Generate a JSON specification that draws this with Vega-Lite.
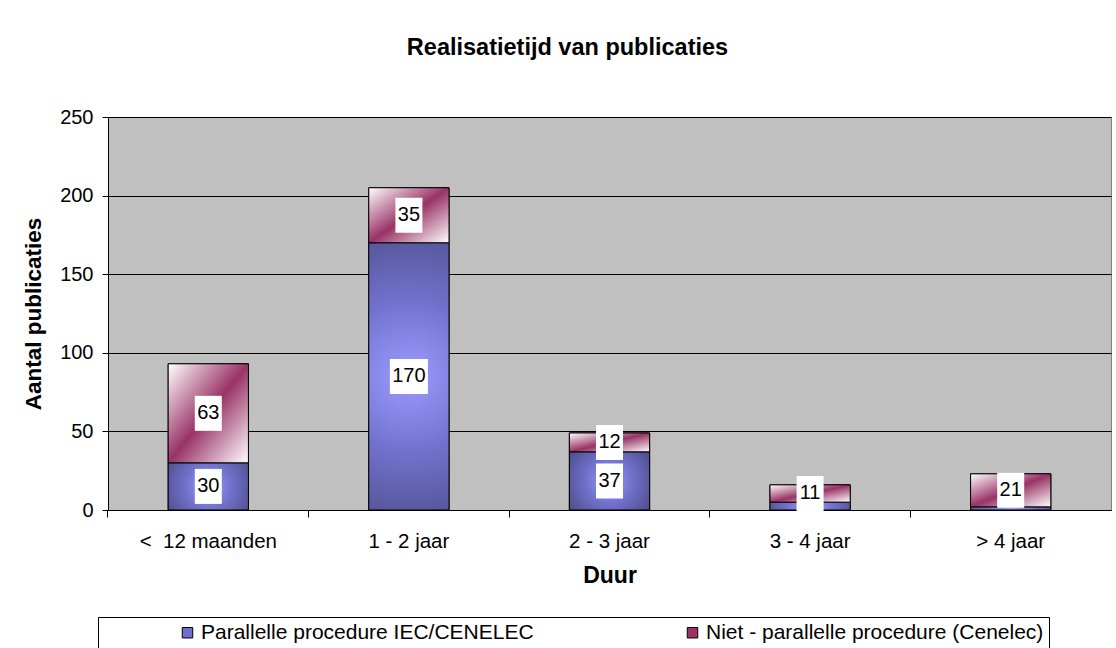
{
  "$schema": "https://vega.github.io/schema/vega-lite/v6.json",
  "width": 1003,
  "height": 393,
  "autosize": {"type": "none"},
  "padding": {"left": 108, "top": 117, "right": 5, "bottom": 138},
  "background": "white",
  "title": {
    "text": "Realisatietijd van publicaties",
    "font": "Liberation Sans",
    "fontSize": 23.5,
    "fontWeight": "bold",
    "color": "black",
    "anchor": "middle",
    "dx": -42,
    "offset": 48
  },
  "config": {
    "font": "Liberation Sans",
    "view": {"fill": "#C0C0C0", "stroke": "#808080"}
  },
  "data": {
    "values": [
      {"cat": "<\u00a0 12 maanden", "series": "Parallelle procedure IEC/CENELEC", "value": 30},
      {"cat": "<\u00a0 12 maanden", "series": "Niet - parallelle procedure (Cenelec)", "value": 63},
      {"cat": "1 - 2 jaar", "series": "Parallelle procedure IEC/CENELEC", "value": 170},
      {"cat": "1 - 2 jaar", "series": "Niet - parallelle procedure (Cenelec)", "value": 35},
      {"cat": "2 - 3 jaar", "series": "Parallelle procedure IEC/CENELEC", "value": 37},
      {"cat": "2 - 3 jaar", "series": "Niet - parallelle procedure (Cenelec)", "value": 12},
      {"cat": "3 - 4 jaar", "series": "Parallelle procedure IEC/CENELEC", "value": 5},
      {"cat": "3 - 4 jaar", "series": "Niet - parallelle procedure (Cenelec)", "value": 11},
      {"cat": "> 4 jaar", "series": "Parallelle procedure IEC/CENELEC", "value": 2},
      {"cat": "> 4 jaar", "series": "Niet - parallelle procedure (Cenelec)", "value": 21}
    ]
  },
  "transform": [
    {"stack": "value", "groupby": ["cat"], "sort": [{"field": "series", "order": "descending"}], "as": ["y0", "y1"]},
    {"calculate": "(datum.y0 + datum.y1) / 2", "as": "ymid"},
    {"calculate": "length(toString(datum.value))", "as": "nd"}
  ],
  "encoding": {
    "x": {
      "field": "cat",
      "type": "nominal",
      "sort": ["<\u00a0 12 maanden", "1 - 2 jaar", "2 - 3 jaar", "3 - 4 jaar", "> 4 jaar"],
      "scale": {"paddingInner": 0.6, "paddingOuter": 0.3},
      "axis": {
        "title": "Duur",
        "titleFontSize": 23,
        "titleFontWeight": "bold",
        "titleColor": "black",
        "titlePadding": 13,
        "labelAngle": 0,
        "labelFontSize": 20.5,
        "labelColor": "black",
        "labelPadding": 14,
        "tickSize": 7,
        "tickColor": "black",
        "domainColor": "black",
        "bandPosition": -0.75
      }
    },
    "y": {
      "field": "y0",
      "type": "quantitative",
      "scale": {"domain": [0, 250]},
      "axis": {
        "title": "Aantal publicaties",
        "titleFontSize": 22.5,
        "titleFontWeight": "bold",
        "titleColor": "black",
        "titlePadding": 14,
        "values": [0, 50, 100, 150, 200, 250],
        "labelFontSize": 20,
        "labelColor": "black",
        "labelPadding": 9,
        "tickSize": 6,
        "tickColor": "black",
        "domainColor": "black",
        "gridColor": "black",
        "gridWidth": 1,
        "gridOpacity": 1
      }
    },
    "y2": {"field": "y1"}
  },
  "layer": [
    {
      "mark": {"type": "bar", "stroke": "black", "strokeWidth": 1},
      "encoding": {
        "fill": {
          "field": "series",
          "type": "nominal",
          "scale": {
            "domain": ["Parallelle procedure IEC/CENELEC", "Niet - parallelle procedure (Cenelec)"],
            "range": ["#6E6ECB", "#993366"]
          },
          "legend": {
            "orient": "none",
            "legendX": -10,
            "legendY": 500,
            "direction": "horizontal",
            "title": " ",
            "titleOrient": "left",
            "titlePadding": 74,
            "padding": 5,
            "strokeColor": "black",
            "fillColor": "white",
            "labelFontSize": 21,
            "labelColor": "black",
            "labelLimit": 600,
            "labelOffset": 3,
            "symbolType": "square",
            "symbolSize": 110,
            "symbolStrokeColor": "black",
            "symbolStrokeWidth": 1,
            "symbolOpacity": 1,
            "columnPadding": 148
          }
        }
      }
    },
    {
      "transform": [{"filter": "datum.series === 'Parallelle procedure IEC/CENELEC'"}],
      "mark": {
        "type": "bar", "stroke": "black", "strokeWidth": 1,
        "fill": {"gradient": "radial", "x1": 0.5, "y1": 0.5, "r1": 0, "x2": 0.5, "y2": 0.5, "r2": 0.7,
                 "stops": [{"offset": 0, "color": "#9C9CFF"}, {"offset": 0.4, "color": "#7272CE"}, {"offset": 1, "color": "#434378"}]}
      }
    },
    {
      "transform": [{"filter": "datum.series === 'Niet - parallelle procedure (Cenelec)'"}],
      "mark": {
        "type": "bar", "stroke": "black", "strokeWidth": 1,
        "fill": {"gradient": "linear", "x1": 0, "y1": 0, "x2": 1, "y2": 1,
                 "stops": [{"offset": 0, "color": "#FFFFFF"}, {"offset": 0.5, "color": "#993366"}, {"offset": 1, "color": "#FFFFFF"}]}
      }
    },
    {
      "transform": [{"filter": "datum.value >= 10"}],
      "mark": {"type": "point", "filled": true, "fill": "white", "opacity": 1, "strokeWidth": 0, "size": 1225},
      "encoding": {
        "y": {"field": "ymid", "type": "quantitative"},
        "y2": null,
        "shape": {
          "field": "nd",
          "type": "ordinal",
          "scale": {"domain": [1, 2, 3], "range": ["M-0.52,-1H0.52V1H-0.52Z", "M-0.772,-1H0.772V1H-0.772Z", "M-1.086,-1H1.086V1H-1.086Z"]},
          "legend": null
        }
      }
    },
    {
      "transform": [{"filter": "datum.value >= 10"}],
      "mark": {"type": "text", "fontSize": 20, "color": "black"},
      "encoding": {
        "y": {"field": "ymid", "type": "quantitative"},
        "y2": null,
        "text": {"field": "value", "type": "quantitative"}
      }
    }
  ]
}
